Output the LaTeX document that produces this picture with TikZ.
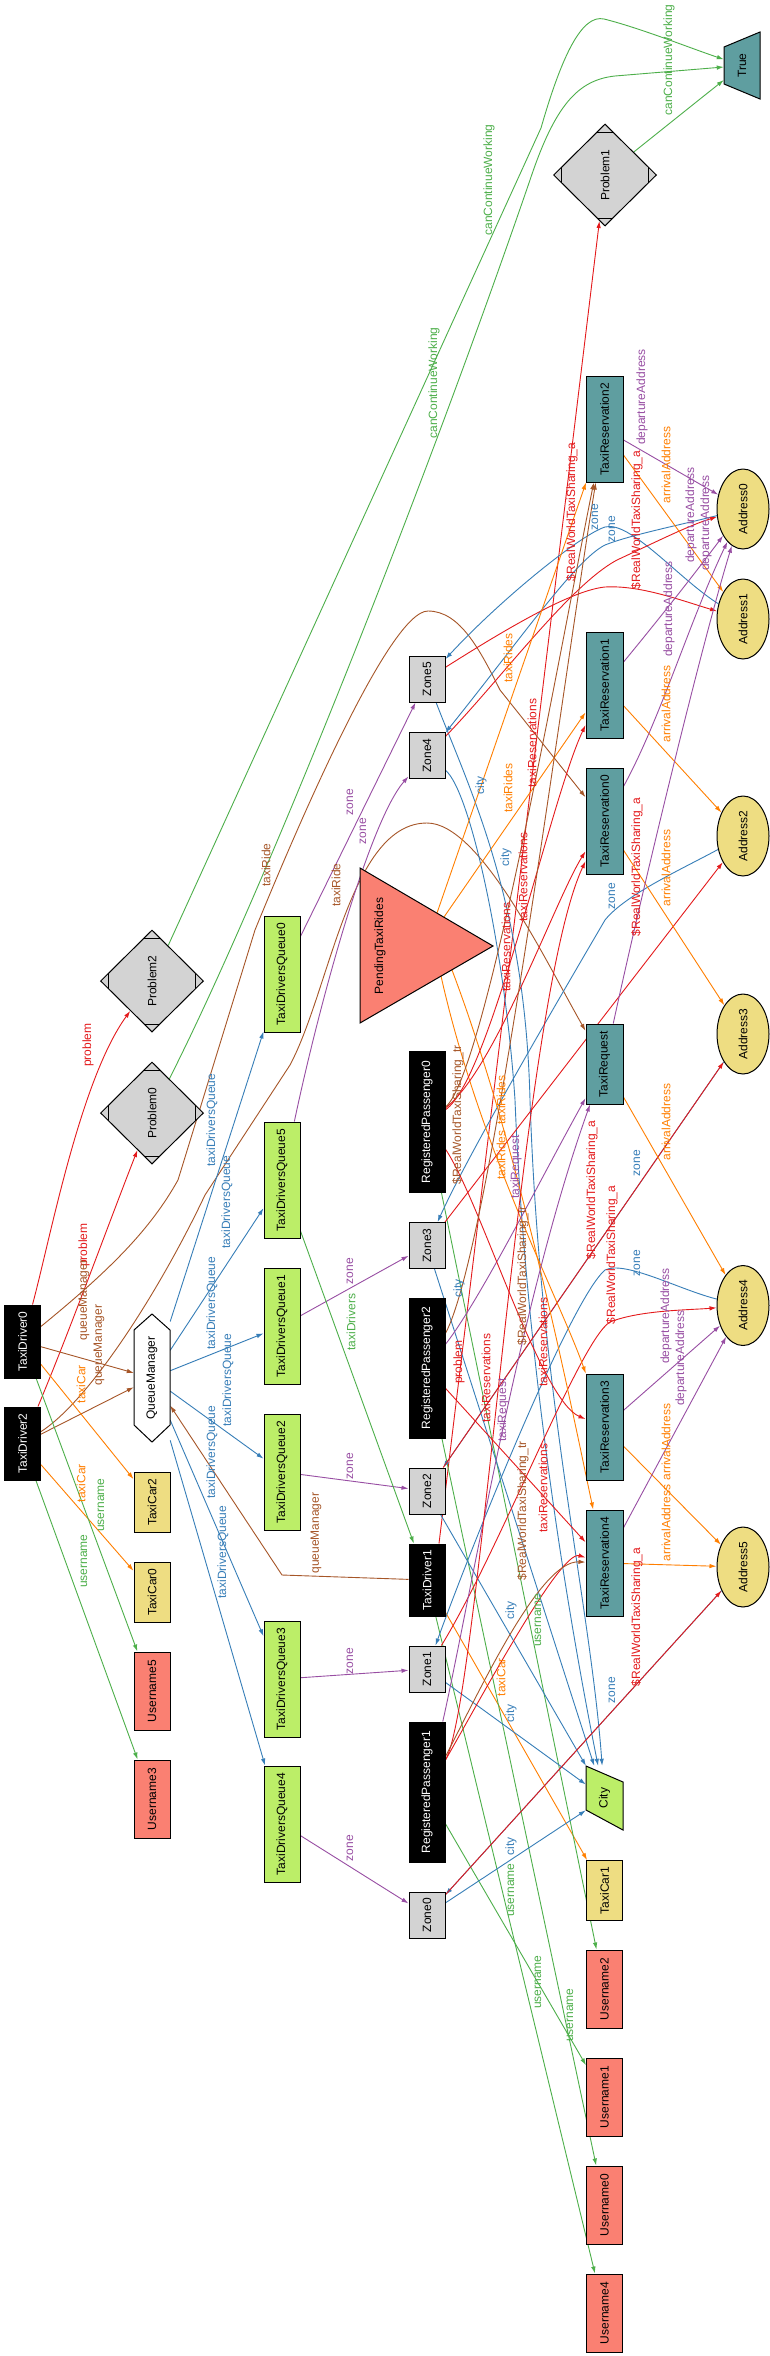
\documentclass[tikz,border=0pt]{standalone}
\usepackage{fontspec}
\setmainfont{Liberation Sans}
\usepackage{graphicx}
\usetikzlibrary{shapes.geometric,arrows.meta}
\definecolor{cteal}{RGB}{95,158,160}
\definecolor{cgbox}{RGB}{188,238,104}
\definecolor{cgray}{RGB}{211,211,211}
\definecolor{ckhaki}{RGB}{238,221,130}
\definecolor{csalmon}{RGB}{250,128,114}
\definecolor{eR}{RGB}{228,26,28}
\definecolor{eB}{RGB}{55,126,184}
\definecolor{eG}{RGB}{77,175,74}
\definecolor{eP}{RGB}{152,78,163}
\definecolor{eO}{RGB}{255,127,0}
\definecolor{eBr}{RGB}{166,86,40}
\newcommand\fs{\fontsize{12}{14}\selectfont}
\newcommand\rt[1]{\rotatebox{90}{#1}}
\newcommand\mdmarks[2]{%
  \draw[line width=0.8pt] (#1-8,#2-43) -- (#1+8,#2-43);
  \draw[line width=0.8pt] (#1-8,#2+43) -- (#1+8,#2+43);
  \draw[line width=0.8pt] (#1-43.5,#2-8) -- (#1-43.5,#2+8);
  \draw[line width=0.8pt] (#1+43.5,#2-8) -- (#1+43.5,#2+8);}
\pgfdeclarelayer{bg}
\pgfsetlayers{bg,main}
\tikzset{
  nb/.style={draw=black, line width=1pt, inner sep=0pt, font=\fs, rectangle},
  tealbox/.style={nb, fill=cteal, minimum width=37pt, minimum height=106pt},
  zonebox/.style={nb, fill=cgray, minimum width=36pt, minimum height=46pt},
  blk/.style={nb, fill=black, text=white, minimum width=36pt},
  tdq/.style={nb, fill=cgbox, minimum width=36pt, minimum height=116pt},
  car/.style={nb, fill=ckhaki, minimum width=36pt, minimum height=60pt},
  uname/.style={nb, fill=csalmon, minimum width=36pt, minimum height=78pt},
  addr/.style={nb, ellipse, fill=ckhaki, minimum width=52pt, minimum height=80pt},
  prob/.style={nb, diamond, fill=cgray, minimum width=103pt, minimum height=102pt},
  txt/.style={inner sep=0pt, font=\fs, rectangle},
  e/.style={line width=0.9pt, -{Latex[length=7pt,width=4.5pt]}},
  lbl/.style={rotate=90, font=\fs, inner sep=0pt},
}
\begin{document}
\begin{tikzpicture}[x=1pt,y=-1pt]
\useasboundingbox (0,0) rectangle (770,2356);
% ---------- shapes drawn directly
\filldraw[fill=cteal, line width=1pt] (724,47) -- (760,32) -- (760,99) -- (724,84) -- cycle;
\filldraw[fill=white, line width=1pt] (152,1314) -- (170,1330) -- (170,1425) -- (152,1442) -- (134,1425) -- (134,1330) -- cycle;
\filldraw[fill=cgbox, line width=1pt] (586,1766) -- (623,1782) -- (623,1830) -- (586,1810) -- cycle;
\filldraw[fill=csalmon, line width=1pt] (360,868) -- (493,946) -- (360,1023) -- cycle;
% ---------- nodes
\node[txt, minimum width=36pt, minimum height=67pt] (True) at (742,65.5) {\rt{True}};
\node[txt, minimum width=36pt, minimum height=128pt] (QM) at (152,1378) {\rt{QueueManager}};
\node[txt, minimum width=37pt, minimum height=64pt] (City) at (604.5,1798) {\rt{City}};
\node[txt] (PTR) at (380,946) {\rt{PendingTaxiRides}};
\coordinate (ptra) at (437,913);
\coordinate (ptrb) at (444,917);
\coordinate (ptrc) at (441,976);
\coordinate (ptrd) at (452,970);
\node[prob] (P1) at (605,175) {\rt{Problem1}};
\node[prob] (P2) at (152,981) {\rt{Problem2}};
\node[prob] (P0) at (152,1113) {\rt{Problem0}};
\mdmarks{605}{175}
\mdmarks{152}{981}
\mdmarks{152}{1113}
\node[tealbox] (TR2) at (604.5,429) {\rt{TaxiReservation2}};
\node[tealbox] (TR1) at (604.5,685) {\rt{TaxiReservation1}};
\node[tealbox] (TR0) at (604.5,821) {\rt{TaxiReservation0}};
\node[tealbox, minimum height=80pt] (TReq) at (604.5,1064) {\rt{TaxiRequest}};
\node[tealbox] (TR3) at (604.5,1427) {\rt{TaxiReservation3}};
\node[tealbox] (TR4) at (604.5,1563) {\rt{TaxiReservation4}};
\node[addr] (A0) at (743,509) {\rt{Address0}};
\node[addr] (A1) at (743,619) {\rt{Address1}};
\node[addr] (A2) at (743,836) {\rt{Address2}};
\node[addr] (A3) at (743,1034) {\rt{Address3}};
\node[addr] (A4) at (743,1305.5) {\rt{Address4}};
\node[addr] (A5) at (743,1567) {\rt{Address5}};
\node[zonebox] (Z5) at (427,679) {\rt{Zone5}};
\node[zonebox] (Z4) at (427,755.5) {\rt{Zone4}};
\node[zonebox] (Z3) at (427,1245.5) {\rt{Zone3}};
\node[zonebox] (Z2) at (427,1491) {\rt{Zone2}};
\node[zonebox] (Z1) at (427,1669) {\rt{Zone1}};
\node[zonebox] (Z0) at (427,1915) {\rt{Zone0}};
\node[blk, minimum height=141pt] (RP0) at (427,1122) {\rt{RegisteredPassenger0}};
\node[blk, minimum height=140pt] (RP2) at (427,1368) {\rt{RegisteredPassenger2}};
\node[blk, minimum height=140pt] (RP1) at (427,1792) {\rt{RegisteredPassenger1}};
\node[blk, minimum height=73pt] (TD0) at (22.5,1341.5) {\rt{TaxiDriver0}};
\node[blk, minimum height=73pt] (TD2) at (22.5,1443.5) {\rt{TaxiDriver2}};
\node[blk, minimum height=72pt] (TD1) at (427,1580) {\rt{TaxiDriver1}};
\node[tdq] (Q0) at (282,974) {\rt{TaxiDriversQueue0}};
\node[tdq] (Q5) at (282,1180) {\rt{TaxiDriversQueue5}};
\node[tdq] (Q1) at (282,1326) {\rt{TaxiDriversQueue1}};
\node[tdq] (Q2) at (282,1472) {\rt{TaxiDriversQueue2}};
\node[tdq] (Q3) at (282,1679) {\rt{TaxiDriversQueue3}};
\node[tdq] (Q4) at (282,1824) {\rt{TaxiDriversQueue4}};
\node[car] (C2) at (152,1502) {\rt{TaxiCar2}};
\node[car] (C0) at (152,1592) {\rt{TaxiCar0}};
\node[car] (C1) at (604.5,1890.5) {\rt{TaxiCar1}};
\node[uname] (U5) at (152,1691) {\rt{Username5}};
\node[uname] (U3) at (152,1799) {\rt{Username3}};
\node[uname] (U2) at (604.5,1989) {\rt{Username2}};
\node[uname] (U1) at (604.5,2097) {\rt{Username1}};
\node[uname] (U0) at (604.5,2205) {\rt{Username0}};
\node[uname] (U4) at (604.5,2313) {\rt{Username4}};
% ---------- edges
\begin{pgfonlayer}{bg}
\fill[white] (0,0) rectangle (770,2356);
% canContinueWorking
\draw[e,eG] (P1) -- (True);
\draw[e,eG] (P2) -- (541,128) .. controls (562,55) and (582,14) .. (604,19) .. controls (640,28) and (690,48) .. (True);
\draw[e,eG] (P0) .. controls (260,900) and (420,500) .. (530,180) .. controls (555,105) and (578,80) .. (615,76) -- (True);
% problem
\draw[e,eR] (TD0) .. controls (50,1240) and (80,1080) .. (P2);
\draw[e,eR] (TD2) .. controls (70,1330) and (110,1220) .. (P0);
\draw[e,eR] ([xshift=12pt]TD1.north) -- (P1);
% queueManager
\draw[e,eBr] (TD0) -- (QM);
\draw[e,eBr] (TD2) -- (QM);
\draw[e,eBr] (TD1) -- (282,1575) -- (QM);
% taxiRide
\draw[e,eBr] (TD0) .. controls (110,1270) and (150,1230) .. (178,1180) -- (255,930) .. controls (300,820) and (390,611) .. (428,611) .. controls (460,611) and (480,650) .. (500,690) -- (TR0);
\draw[e,eBr] (TD2) .. controls (90,1400) and (160,1290) .. (205,1195) -- (290,1065) .. controls (330,990) and (350,823) .. (427,823) .. controls (480,823) and (545,960) .. (TReq);
% taxiCar, username
\draw[e,eO] (TD0) -- (C2);
\draw[e,eO] (TD2) -- (C0);
\draw[e,eO] (TD1) -- (C1);
\draw[e,eG] (TD0) -- (U5);
\draw[e,eG] (TD2) -- (U3);
\draw[e,eG] (RP0) -- (U2);
\draw[e,eG] (RP2) -- (U0);
\draw[e,eG] (TD1) -- (U4);
\draw[e,eG] (RP1) -- (U1);
% taxiDriversQueue
\foreach \q in {Q0,Q5,Q1,Q2,Q3,Q4} {\draw[e,eB] (QM) -- (\q);}
% zone (queue -> zone)
\draw[e,eP] (Q0) -- (Z5);
\draw[e,eP] (Q5) .. controls (320,1000) and (370,820) .. (Z4);
\draw[e,eP] (Q1) -- (Z3);
\draw[e,eP] (Q2) -- (Z2);
\draw[e,eP] (Q3) -- (Z1);
\draw[e,eP] (Q4) -- (Z0);
% taxiDrivers
\draw[e,eG] (Q5) -- (TD1);
% city
\draw[e,eB] (Z5) .. controls (470,790) and (525,900) .. (530,1100) .. controls (540,1400) and (590,1600) .. (City);
\draw[e,eB] (Z4) .. controls (470,790) and (505,950) .. (515,1100) .. controls (525,1350) and (565,1600) .. (City);
\draw[e,eB] (Z3) -- (City);
\draw[e,eB] (Z2) -- (City);
\draw[e,eB] (Z1) -- (City);
\draw[e,eB] (Z0) -- (City);
% zone (address -> zone)
\draw[e,eB] (A1) .. controls (680,580) and (630,520) .. (605,527) .. controls (580,535) and (500,600) .. (Z5);
\draw[e,eB] (A0) .. controls (680,525) and (630,535) .. (605,545) .. controls (575,560) and (520,640) .. (Z4);
\draw[e,eB] (A2) .. controls (680,870) and (625,895) .. (605,920) .. controls (570,980) and (470,1150) .. (Z3);
\draw[e,eB] (A3) -- (Z2);
\draw[e,eB] (A4) .. controls (680,1290) and (625,1260) .. (605,1270) .. controls (570,1300) and (470,1550) .. (Z1);
\draw[e,eB] (A5) -- (Z0);
% $RealWorldTaxiSharing_a (zone -> address)
\draw[e,eR] (Z5) .. controls (520,620) and (575,590) .. (605,587) .. controls (640,585) and (680,600) .. (A1);
\draw[e,eR] (Z4) .. controls (500,680) and (570,585) .. (617,560) .. controls (660,540) and (690,525) .. (A0);
\draw[e,eR] (Z3) -- (A2);
\draw[e,eR] (Z2) -- (A3);
\draw[e,eR] (Z1) .. controls (500,1550) and (580,1340) .. (610,1322) .. controls (640,1310) and (690,1310) .. (A4);
\draw[e,eR] (Z0) -- (A5);
% arrivalAddress
\draw[e,eO] (TR2) -- (A1);
\draw[e,eO] (TR1) -- (A2);
\draw[e,eO] (TR0) -- (A3);
\draw[e,eO] (TReq) -- (A4);
\draw[e,eO] (TR3) -- (A5);
\draw[e,eO] (TR4) -- (A5);
% departureAddress
\draw[e,eP] (TR2) -- (A0);
\draw[e,eP] (TR1) .. controls (650,630) and (690,580) .. (A0);
\draw[e,eP] (TR0) .. controls (660,720) and (690,620) .. (A0);
\draw[e,eP] (TReq) .. controls (640,900) and (700,650) .. (A0);
\draw[e,eP] (TR3) -- (A4);
\draw[e,eP] (TR4) -- (A4);
% taxiRides
\draw[e,eO] (ptra) -- (TR2);
\draw[e,eO] (ptrb) -- (TR1);
\draw[e,eO] (ptrc) .. controls (480,1150) and (560,1300) .. (TR3);
\draw[e,eO] (ptrd) .. controls (520,1150) and (570,1400) .. (TR4);
% taxiRequest
\draw[e,eP] (RP2) .. controls (480,1300) and (540,1180) .. (TReq);
\draw[e,eP] (RP1) .. controls (470,1600) and (520,1300) .. (TReq);
% taxiReservations
\draw[e,eR] (RP0) .. controls (490,1080) and (550,800) .. (TR1);
\draw[e,eR] (RP0) .. controls (495,1070) and (555,900) .. (TR0);
\draw[e,eR] (RP1) .. controls (480,1700) and (520,1000) .. (TR0);
\draw[e,eR] (RP0) .. controls (480,1200) and (540,1400) .. (TR3);
\draw[e,eR] (RP2) -- (TR4);
\draw[e,eR] (RP1) .. controls (480,1700) and (560,1550) .. (TR4);
% $RealWorldTaxiSharing_tr
\draw[e,eBr] (RP0) .. controls (485,1075) and (560,650) .. (TR2);
\draw[e,eBr] (RP2) .. controls (490,1250) and (560,700) .. (TR2);
\draw[e,eBr] (RP1) .. controls (480,1690) and (540,1560) .. (TR4);
\end{pgfonlayer}
% ---------- labels
\begin{scope}[every node/.style={lbl}]
\node[eG] at (669,60) {canContinueWorking};
\node[eG] at (489,180) {canContinueWorking};
\node[eG] at (434,383) {canContinueWorking};
\node[eR] at (88,1045) {problem};
\node[eR] at (84,1245) {problem};
\node[eR] at (459,1362) {problem};
\node[eBr] at (84,1300) {queueManager};
\node[eBr] at (99,1345) {queueManager};
\node[eBr] at (316,1533) {queueManager};
\node[eBr] at (266,865) {taxiRide};
\node[eBr] at (336,885) {taxiRide};
\node[eO] at (81,1384) {taxiCar};
\node[eO] at (81,1483) {taxiCar};
\node[eO] at (501,1677) {taxiCar};
\node[eG] at (101,1505) {username};
\node[eG] at (84,1561) {username};
\node[eG] at (538,1620) {username};
\node[eG] at (511,1890) {username};
\node[eG] at (538,1982) {username};
\node[eG] at (570,2015) {username};
\node[eB] at (212,1120) {taxiDriversQueue};
\node[eB] at (227,1202) {taxiDriversQueue};
\node[eB] at (212,1303) {taxiDriversQueue};
\node[eB] at (228,1380) {taxiDriversQueue};
\node[eB] at (212,1452) {taxiDriversQueue};
\node[eB] at (223,1552) {taxiDriversQueue};
\node[eP] at (350,802) {zone};
\node[eP] at (363,831) {zone};
\node[eP] at (350,1271) {zone};
\node[eP] at (350,1466) {zone};
\node[eP] at (350,1661) {zone};
\node[eP] at (350,1848) {zone};
\node[eG] at (351,1322) {taxiDrivers};
\node[eB] at (481,785) {city};
\node[eB] at (506,857) {city};
\node[eB] at (459,1288) {city};
\node[eB] at (511,1610) {city};
\node[eB] at (511,1713) {city};
\node[eB] at (511,1846) {city};
\node[eB] at (595,517) {zone};
\node[eB] at (612,529) {zone};
\node[eB] at (612,896) {zone};
\node[eB] at (637,1163) {zone};
\node[eB] at (637,1263) {zone};
\node[eB] at (612,1690) {zone};
\node[eR] at (572,512) {\$RealWorldTaxiSharing\_a};
\node[eR] at (637,520) {\$RealWorldTaxiSharing\_a};
\node[eR] at (637,867) {\$RealWorldTaxiSharing\_a};
\node[eR] at (592,1190) {\$RealWorldTaxiSharing\_a};
\node[eR] at (612,1255) {\$RealWorldTaxiSharing\_a};
\node[eR] at (637,1617) {\$RealWorldTaxiSharing\_a};
\node[eBr] at (458,1115) {\$RealWorldTaxiSharing\_tr};
\node[eBr] at (523,1276) {\$RealWorldTaxiSharing\_tr};
\node[eBr] at (523,1511) {\$RealWorldTaxiSharing\_tr};
\node[eO] at (666,465) {arrivalAddress};
\node[eO] at (666,704) {arrivalAddress};
\node[eO] at (666,868) {arrivalAddress};
\node[eO] at (666,1122) {arrivalAddress};
\node[eO] at (666,1442) {arrivalAddress};
\node[eO] at (666,1523) {arrivalAddress};
\node[eP] at (642,397) {departureAddress};
\node[eP] at (691,515) {departureAddress};
\node[eP] at (706,523) {departureAddress};
\node[eP] at (669,609) {departureAddress};
\node[eP] at (666,1316) {departureAddress};
\node[eP] at (681,1358) {departureAddress};
\node[eO] at (508,658) {taxiRides};
\node[eO] at (508,788) {taxiRides};
\node[eO] at (501,1100) {taxiRides};
\node[eO] at (501,1155) {taxiRides};
\node[eR] at (532,743) {taxiReservations};
\node[eR] at (523,877) {taxiReservations};
\node[eR] at (506,947) {taxiReservations};
\node[eR] at (486,1378) {taxiReservations};
\node[eR] at (543,1342) {taxiReservations};
\node[eR] at (543,1488) {taxiReservations};
\node[eP] at (516,1167) {taxiRequest};
\node[eP] at (503,1410) {taxiRequest};
\end{scope}
\end{tikzpicture}
\end{document}
